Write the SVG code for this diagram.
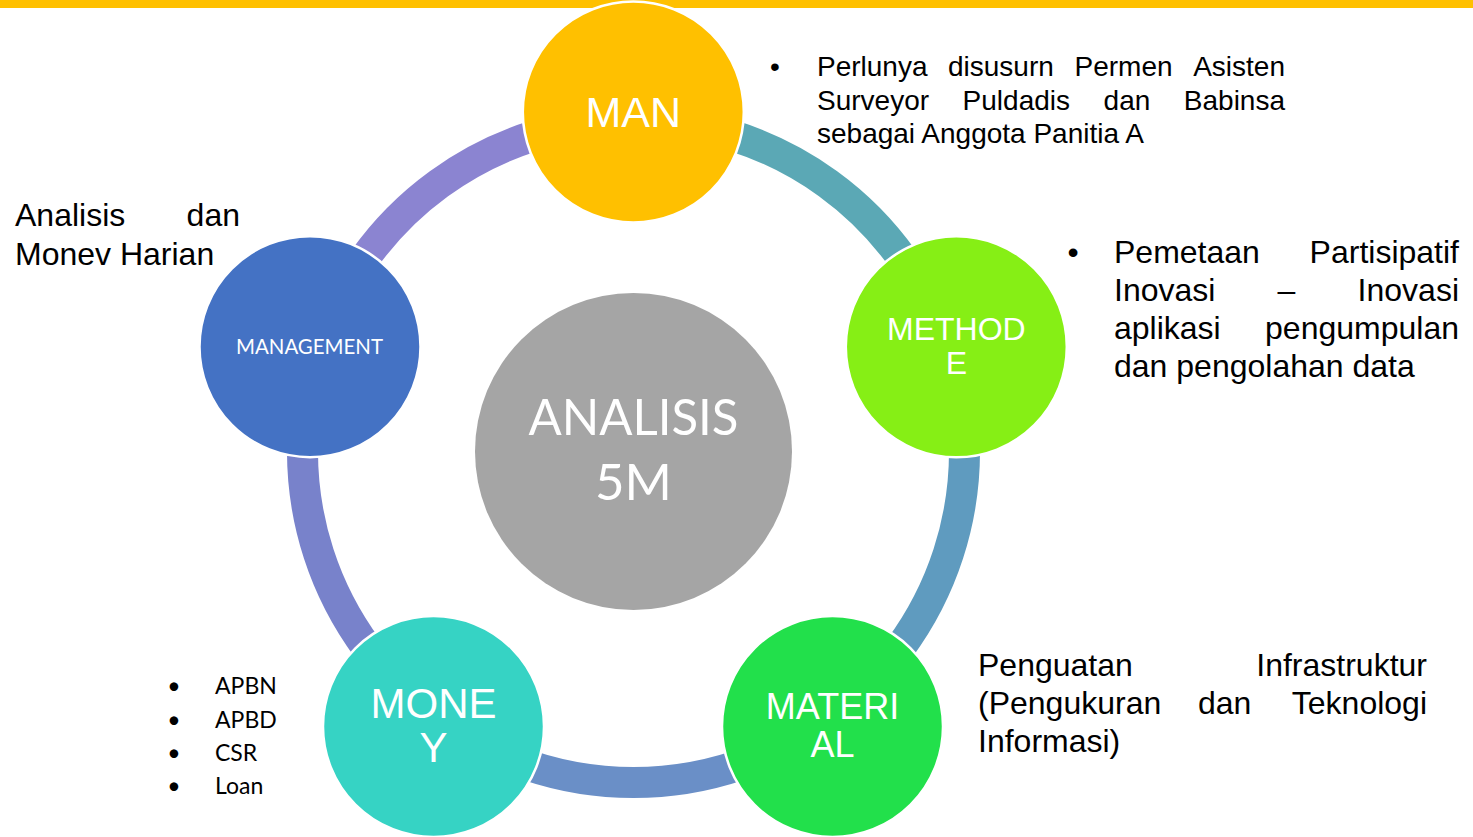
<svg xmlns="http://www.w3.org/2000/svg" width="1473" height="837" viewBox="0 0 1473 837">
<style>
.arc{fill:none;stroke-width:31}
.node{stroke:#ffffff;stroke-width:2.5}
.lbl{font-family:"Liberation Sans",Arial,sans-serif;fill:#ffffff;text-anchor:middle}
.cal{font-family:Lato,"Open Sans",sans-serif}
.txt{font-family:"Liberation Sans",Arial,sans-serif;fill:#000000}
.end{text-anchor:end}
</style>
<rect x="0" y="0" width="1473" height="8" fill="#FFC000"/>
<g id="connectors">
<path class="arc" stroke="#5BA8B5" d="M633.5,120.5 A331,331 0 0 1 948.3,349.2"/>
<path class="arc" stroke="#5F9BBF" d="M948.3,349.2 A331,331 0 0 1 828.06,719.28"/>
<path class="arc" stroke="#6A8FC7" d="M828.06,719.28 A331,331 0 0 1 438.94,719.28"/>
<path class="arc" stroke="#7882CB" d="M438.94,719.28 A331,331 0 0 1 318.7,349.2"/>
<path class="arc" stroke="#8B84D1" d="M318.7,349.2 A331,331 0 0 1 633.5,120.5"/>
</g>
<g id="center">
<circle cx="633.5" cy="451.5" r="158.5" fill="#A5A5A5"/>
<text class="cal" x="633.5" y="435" font-size="50" fill="#ffffff" text-anchor="middle" textLength="210" lengthAdjust="spacingAndGlyphs">ANALISIS</text>
<text class="cal" x="633.5" y="500" font-size="51" fill="#ffffff" text-anchor="middle">5M</text>
</g>
<g id="man">
<circle class="node" cx="633.3" cy="112" r="110.5" fill="#FFC000"/>
<text class="lbl" x="633.3" y="127" font-size="43">MAN</text>
</g>
<g id="methode">
<circle class="node" cx="956.3" cy="346.8" r="110.5" fill="#86EF15"/>
<text class="lbl" x="956.3" y="340" font-size="32">METHOD</text>
<text class="lbl" x="956.3" y="374" font-size="32">E</text>
</g>
<g id="material">
<circle class="node" cx="832.5" cy="726.5" r="110.5" fill="#22E04B"/>
<text class="lbl" x="832.5" y="719" font-size="36">MATERI</text>
<text class="lbl" x="832.5" y="757" font-size="36">AL</text>
</g>
<g id="money">
<circle class="node" cx="433.5" cy="726.5" r="110.5" fill="#36D3C4"/>
<text class="lbl" x="433.5" y="718" font-size="42">MONE</text>
<text class="lbl" x="433.5" y="762" font-size="42">Y</text>
</g>
<g id="management">
<circle class="node" cx="310" cy="346.7" r="110.5" fill="#4472C4"/>
<text class="cal" x="309.5" y="354" font-size="21" fill="#ffffff" text-anchor="middle" textLength="147" lengthAdjust="spacingAndGlyphs">MANAGEMENT</text>
</g>
<g id="note-man" class="txt" font-size="28">
<text x="775" y="76" text-anchor="middle">•</text>
<text x="817" y="76">Perlunya</text>
<text x="948" y="76">disusurn</text>
<text x="1074.5" y="76">Permen</text>
<text class="end" x="1285" y="76">Asisten</text>
<text x="817" y="110">Surveyor</text>
<text x="962.6" y="110">Puldadis</text>
<text x="1103.6" y="110">dan</text>
<text class="end" x="1285" y="110">Babinsa</text>
<text x="817" y="143">sebagai Anggota Panitia A</text>
</g>
<g id="note-methode" class="txt" font-size="32">
<text x="1073" y="263" text-anchor="middle">•</text>
<text x="1114" y="263">Pemetaan</text>
<text class="end" x="1459" y="263">Partisipatif</text>
<text x="1114" y="301">Inovasi</text>
<text x="1277.6" y="301">–</text>
<text class="end" x="1459" y="301">Inovasi</text>
<text x="1114" y="339">aplikasi</text>
<text class="end" x="1459" y="339">pengumpulan</text>
<text x="1114" y="377">dan pengolahan data</text>
</g>
<g id="note-material" class="txt" font-size="32">
<text x="978" y="676">Penguatan</text>
<text class="end" x="1427" y="676">Infrastruktur</text>
<text x="978" y="714">(Pengukuran</text>
<text x="1198" y="714">dan</text>
<text class="end" x="1427" y="714">Teknologi</text>
<text x="978" y="752">Informasi)</text>
</g>
<g id="note-management" class="txt" font-size="32">
<text x="15" y="226">Analisis</text>
<text class="end" x="240" y="226">dan</text>
<text x="15" y="265">Monev Harian</text>
</g>
<g id="note-money" class="cal" font-size="23" fill="#000000">
<text x="174" y="694" text-anchor="middle">•</text>
<text x="215" y="694">APBN</text>
<text x="174" y="728" text-anchor="middle">•</text>
<text x="215" y="728">APBD</text>
<text x="174" y="761" text-anchor="middle">•</text>
<text x="215" y="761">CSR</text>
<text x="174" y="794" text-anchor="middle">•</text>
<text x="215" y="794">Loan</text>
</g>
</svg>
